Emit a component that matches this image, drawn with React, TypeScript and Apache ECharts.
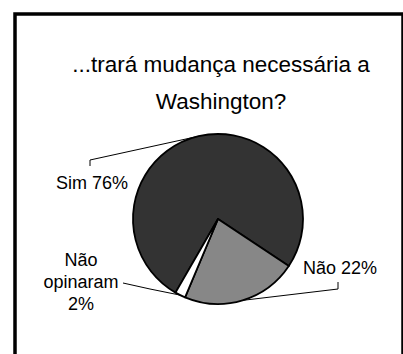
import React, { useEffect, useRef } from "react";
import * as echarts from "echarts";

const titleLines = ["...trará mudança necessária a", "Washington?"];
const categories = ["Sim", "Não", "Não opinaram"];
const labelTexts = ["Sim 76%", "Não 22%", "Não\nopinaram\n2%"];
const values = [76, 22, 2];
const colors = ["#333333", "#878787", "#ffffff"];

const FONT = "Liberation Sans";

export default function App() {
  const ref = useRef<HTMLDivElement>(null);
  useEffect(() => {
    if (!ref.current) return;
    const chart = echarts.init(ref.current, null, { renderer: "svg" });
    const labelPos = [
      { x: 92, y: 183, elbow: [90, 160], end: [90, 166] },
      { x: 340, y: 268, elbow: [338, 289], end: [338, 282] },
      { x: 81, y: 282, elbow: [150, 289], end: [123, 283] },
    ];
    chart.setOption({
      animation: false,
      backgroundColor: "#ffffff",
      title: {
        text: titleLines.join("\n"),
        left: 216,
        top: 41,
        textAlign: "center",
        textStyle: {
          fontFamily: FONT,
          fontSize: 22.5,
          fontWeight: "normal",
          color: "#000000",
          lineHeight: 37,
        },
      },
      graphic: [
        {
          type: "rect",
          shape: { x: 15, y: 14, width: 388, height: 400 },
          style: { fill: "none", stroke: "#000000", lineWidth: 3.5 },
          z: 100,
        },
      ],
      series: [
        {
          type: "pie",
          center: [218, 219],
          radius: 85,
          startAngle: 240,
          clockwise: true,
          data: categories.map((c, i) => ({
            name: c,
            value: values[i],
            itemStyle: { color: colors[i] },
            label: { formatter: labelTexts[i] },
          })),
          itemStyle: { borderColor: "#000000", borderWidth: 1.8 },
          label: {
            show: true,
            position: "outside",
            fontFamily: FONT,
            fontSize: 18,
            color: "#000000",
            lineHeight: 22,
            align: "center",
          },
          labelLine: {
            show: true,
            length: 20,
            length2: 20,
            lineStyle: { color: "#000000", width: 1 },
          },
          labelLayout: (params: any) => {
            const p = labelPos[params.dataIndex];
            const start = params.labelLinePoints ? params.labelLinePoints[0] : [218, 219];
            return {
              x: p.x,
              y: p.y,
              align: "center",
              verticalAlign: "middle",
              labelLinePoints: [start, p.elbow, p.end],
            };
          },
        },
      ],
    });
    return () => chart.dispose();
  }, []);
  return (
    <div
      ref={ref}
      style={{ position: "fixed", left: 0, top: 0, width: 403, height: 354 }}
    />
  );
}
